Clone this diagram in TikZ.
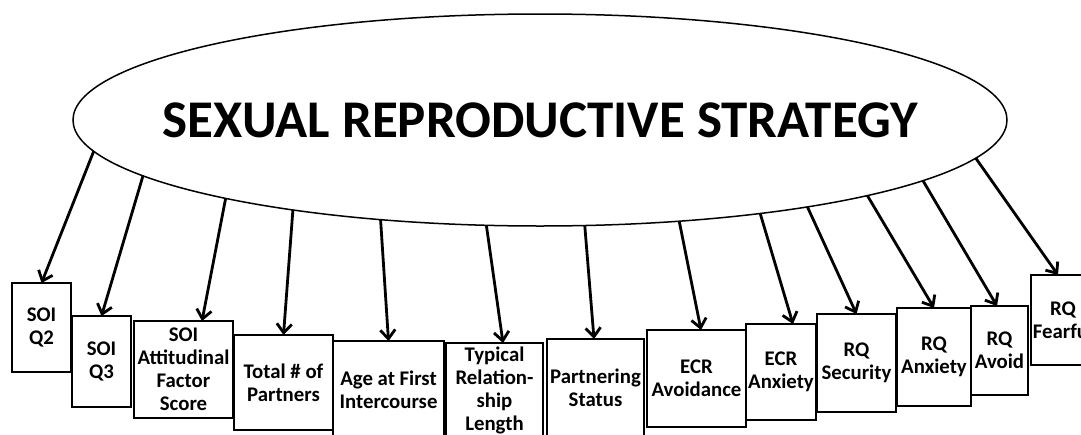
\documentclass[tikz,border=0pt]{standalone}
\usepackage{fontspec}
\setmainfont{Carlito}
\usetikzlibrary{shapes}
\usetikzlibrary{arrows.meta}

\begin{document}
\begin{tikzpicture}[x=1pt,y=-1pt]
  \tikzset{FactorStyle/.style = {
    shape         = ellipse,
    draw          = black,
    fill          = white,
    line width    = 1.5pt,
    text          = black,
    inner sep     = 0pt,
    outer sep     = 0pt,
    minimum width = 934pt,
    minimum height= 212pt,
    font          = \fontsize{53}{60}\selectfont\bfseries
    }
  }
  \tikzset{IndicatorStyle/.style = {
    shape         = rectangle,
    draw          = black,
    fill          = white,
    line width    = 2.4pt,
    text          = black,
    align         = center,
    inner sep     = 0pt,
    outer sep     = 0pt,
    font          = \fontsize{20.8}{23}\selectfont\bfseries
    }
  }
  \tikzset{ArrowStyle/.style = {
    draw          = black,
    line width    = 2.8pt,
    -{Straight Barb[length=9pt,width=15pt]}
    }
  }

  \useasboundingbox (0,0) rectangle (1081,434);

	\node[FactorStyle](F) at (540, 120) {\makebox[0pt]{SEXUAL REPRODUCTIVE STRATEGY}};

	\node[IndicatorStyle, minimum width=59pt, minimum height=89pt](I1) at (41.5, 327.5) {SOI\\Q2};
	\node[IndicatorStyle, minimum width=59pt, minimum height=91pt](I2) at (101.5, 361.5) {SOI\\Q3};
	\node[IndicatorStyle, minimum width=99pt, minimum height=97pt](I3) at (183.5, 369.5) {SOI\\Attitudinal\\Factor\\Score};
	\node[IndicatorStyle, minimum width=99pt, minimum height=95pt](I4) at (283.5, 382.5) {Total \# of\\Partners};
	\node[IndicatorStyle, minimum width=111pt, minimum height=97pt](I5) at (388.5, 389.5) {Age at First\\Intercourse};
	\node[IndicatorStyle, minimum width=97pt, minimum height=94pt](I6) at (494.5, 390) {Typical\\Relation-\\ship\\Length};
	\node[IndicatorStyle, minimum width=97pt, minimum height=98pt](I7) at (595.5, 388) {Partnering\\Status};
	\node[IndicatorStyle, minimum width=99pt, minimum height=97pt](I8) at (696.5, 378.5) {ECR\\Avoidance};
	\node[IndicatorStyle, minimum width=70pt, minimum height=96pt](I9) at (781, 372) {ECR\\Anxiety};
	\node[IndicatorStyle, minimum width=79pt, minimum height=98pt](I10) at (856.5, 363) {RQ\\Security};
	\node[IndicatorStyle, minimum width=74pt, minimum height=98pt](I11) at (934, 357) {RQ\\Anxiety};
	\node[IndicatorStyle, minimum width=57pt, minimum height=89pt](I12) at (999.5, 350.5) {RQ\\Avoid};
	\node[IndicatorStyle, minimum width=64pt, minimum height=90pt](I13) at (1063, 320) {RQ\\Fearful};

	\draw[ArrowStyle](F.184.6) -- (I1.north);
	\draw[ArrowStyle](F.188.7) -- (I2.north);
	\draw[ArrowStyle](F.194.2) -- ([xshift=18.5pt]I3.north);
	\draw[ArrowStyle](F.200.4) -- (I4.north);
	\draw[ArrowStyle](F.212.4) -- (I5.north);
	\draw[ArrowStyle](F.243.4) -- ([xshift=8.5pt]I6.north);
	\draw[ArrowStyle](F.293.5) -- ([xshift=-1.5pt]I7.north);
	\draw[ArrowStyle](F.324.2) -- ([xshift=4.5pt]I8.north);
	\draw[ArrowStyle](F.337.1) -- ([xshift=12pt]I9.north);
	\draw[ArrowStyle](F.342.6) -- (I10.north);
	\draw[ArrowStyle](F.347.9) -- (I11.north);
	\draw[ArrowStyle](F.351.7) -- ([xshift=-2.5pt]I12.north);
	\draw[ArrowStyle](F.355.5) -- ([xshift=-5pt]I13.north);
\end{tikzpicture}
\end{document}
